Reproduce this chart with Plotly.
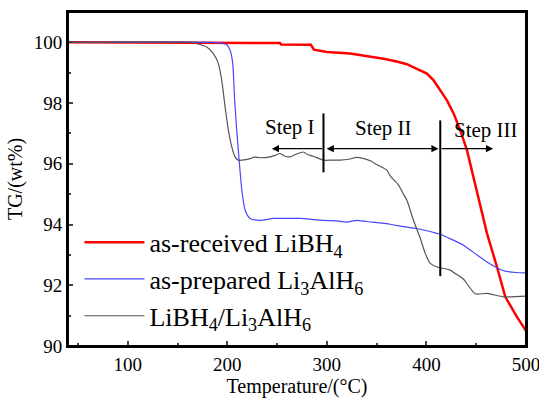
import plotly.graph_objects as go

# as-received LiBH4
red_T = [40, 150, 253, 254, 284, 287, 291.6, 300, 323.4, 343.5, 356.9, 370.3, 380.4, 390.4,
         400.5, 407.2, 413.9, 420.6, 427.3, 434, 440.7, 447.4, 452.4, 460.8, 470.8, 479.2,
         490.9, 500]
red_W = [100.0, 100.0, 99.98, 99.93, 99.92, 99.76, 99.74, 99.68, 99.63, 99.54, 99.46, 99.37,
         99.28, 99.13, 98.97, 98.75, 98.42, 98.09, 97.66, 97.1, 96.45, 95.56, 94.8, 93.71,
         92.61, 91.62, 90.96, 90.5]

# as-prepared Li3AlH6
blue_T = [40, 185, 192.8, 199.5, 202.8, 205.5, 207.2, 209.5, 212.2, 214.6, 217.9, 222.9, 233,
          246.3, 263, 273, 296.6, 310, 320, 330.2, 340, 363.6, 377, 390.4, 410.6, 413.9,
          437.3, 444, 464, 477.5, 490, 500]
blue_W = [100.0, 100.0, 99.98, 99.92, 99.74, 99.3, 98.2, 97.1, 96.0, 95.13, 94.47, 94.2, 94.14,
          94.2, 94.2, 94.2, 94.14, 94.12, 94.08, 94.14, 94.1, 94.01, 93.93, 93.87, 93.71, 93.68,
          93.32, 93.16, 92.7, 92.48, 92.42, 92.41]

# LiBH4/Li3AlH6
gray_T = [40, 165, 169.3, 179.4, 186, 191, 194.4, 197.8, 201.1, 204.5, 207.8, 211, 214.6,
          222.9, 227, 233, 243, 248, 253, 258, 263, 268, 276.5, 281, 286.5, 296.6, 305, 313.4,
          322, 330.2, 337, 343.5, 350, 360.3, 363.6, 372, 377, 380.4, 387, 393.8, 398.8, 403.8,
          410.6, 424, 427.3, 437.3, 440.7, 449, 460.8, 477.5, 500]
gray_W = [100.0, 100.0, 99.96, 99.85, 99.63, 99.3, 98.75, 97.87, 97.1, 96.56, 96.23, 96.12,
          96.12, 96.17, 96.22, 96.2, 96.23, 96.28, 96.34, 96.25, 96.23, 96.3, 96.39, 96.3, 96.25,
          96.12, 96.12, 96.12, 96.15, 96.21, 96.17, 96.1, 95.98, 95.79, 95.6, 95.3, 95.0, 94.8,
          94.14, 93.55, 93.05, 92.72, 92.6, 92.5, 92.42, 92.2, 92.05, 91.72, 91.73, 91.62, 91.64]

series_names = ["as-received LiBH<sub>4</sub>",
                "as-prepared Li<sub>3</sub>AlH<sub>6</sub>",
                "LiBH<sub>4</sub>/Li<sub>3</sub>AlH<sub>6</sub>"]

# step markers
step_lines_T = [296.6, 413.9]
step_lines_W = [(95.72, 97.66), (92.3, 97.43)]
step_labels = ["Step I", "Step II", "Step III"]
step_label_T = [263, 357, 460]
step_label_W = [97.2, 97.17, 97.1]
arrow_W = 96.5
arrow_segments = [(296.6, 244.7, "end"), (298.3, 412.2, "end+start"), (413.9, 467.0, "end")]

FONT = "Liberation Serif"

fig = go.Figure()
fig.add_trace(go.Scatter(x=red_T, y=red_W, mode="lines", name=series_names[0],
                         line=dict(color="#ff0000", width=2.5)))
fig.add_trace(go.Scatter(x=blue_T, y=blue_W, mode="lines", name=series_names[1],
                         line=dict(color="#4646ff", width=1.2, shape="spline", smoothing=0.6)))
fig.add_trace(go.Scatter(x=gray_T, y=gray_W, mode="lines", name=series_names[2],
                         line=dict(color="#555555", width=1.2, shape="spline", smoothing=0.6)))

for t, (w0, w1) in zip(step_lines_T, step_lines_W):
    fig.add_shape(type="line", x0=t, x1=t, y0=w0, y1=w1, xref="x", yref="y",
                  line=dict(color="black", width=2))

# plot frame
fig.add_shape(type="rect", x0=0, x1=1, y0=0, y1=1, xref="paper", yref="paper",
              line=dict(color="black", width=2), layer="above")

for (t0, t1, side) in arrow_segments:
    fig.add_annotation(x=t1, y=arrow_W, ax=t0, ay=arrow_W, axref="x", ayref="y",
                       xref="x", yref="y", text="", showarrow=True, arrowhead=2,
                       arrowsize=1.2, arrowwidth=1.2, arrowcolor="black", arrowside=side,
                       startarrowhead=2, startarrowsize=1.2)

for lab, t, w in zip(step_labels, step_label_T, step_label_W):
    fig.add_annotation(x=t, y=w, text=lab, showarrow=False, xref="x", yref="y",
                       font=dict(family=FONT, size=21, color="black"))

fig.update_layout(
    width=539, height=403,
    margin=dict(l=68, r=13, t=12, b=57, autoexpand=False),
    paper_bgcolor="white", plot_bgcolor="white",
    font=dict(family=FONT, color="black"),
    showlegend=True,
    legend=dict(x=0.025, y=0.381, xanchor="left", yanchor="top",
                font=dict(family=FONT, size=26, color="black"),
                bgcolor="rgba(0,0,0,0)", itemwidth=60, tracegroupgap=0),
)
fig.update_xaxes(range=[40, 500], dtick=100, tick0=0, ticks="inside", ticklen=5, tickwidth=1.5,
                 showline=True, linewidth=2, linecolor="black", mirror=True, showgrid=False,
                 zeroline=False, tickfont=dict(family=FONT, size=19), automargin=False,
                 ticklabeloverflow="allow",
                 minor=dict(dtick=50, ticks="inside", ticklen=3, tickwidth=1.5),
                 title=dict(text="Temperature/(°C)", font=dict(family=FONT, size=20), standoff=4))
fig.update_yaxes(range=[90, 101], dtick=2, tick0=90, ticks="inside", ticklen=5, tickwidth=1.5,
                 showline=True, linewidth=2, linecolor="black", mirror=True, showgrid=False,
                 zeroline=False, tickfont=dict(family=FONT, size=19), automargin=False,
                 minor=dict(dtick=1, ticks="inside", ticklen=3, tickwidth=1.5),
                 title=dict(text="TG/(wt%)", font=dict(family=FONT, size=20), standoff=6))

# remove the default 8px page margin so the 539x403 figure fills the window exactly
fig.write_html("out.html", config={"displayModeBar": False},
               post_script="document.body.style.margin='0';document.body.style.overflow='hidden';")
